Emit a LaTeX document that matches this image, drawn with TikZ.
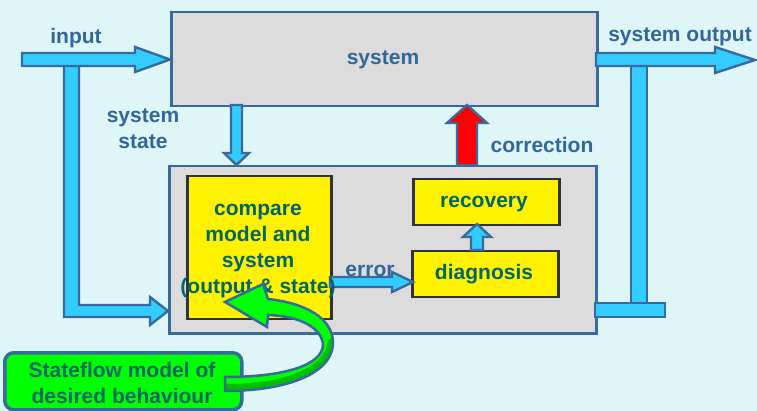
\documentclass[tikz,border=0pt]{standalone}
\usepackage{fontspec}
\setmainfont{Liberation Sans}
\definecolor{bg}{RGB}{222,246,248}
\definecolor{boxgray}{RGB}{220,220,220}
\definecolor{edgeblue}{RGB}{56,106,158}
\definecolor{arrowblue}{RGB}{51,204,255}
\definecolor{labelblue}{RGB}{51,102,153}
\definecolor{tealtext}{RGB}{0,102,102}
\definecolor{darkedge}{RGB}{50,50,50}
\definecolor{lime}{RGB}{0,255,0}
\definecolor{shadegreen}{RGB}{0,190,0}
\begin{document}
\begin{tikzpicture}[x=1pt,y=-1pt,
  txt/.style={font=\bfseries\fontsize{21}{26}\selectfont, inner sep=0pt},
  lbl/.style={txt, text=labelblue},
  intxt/.style={txt, text=tealtext, align=center},
  frame/.style={draw=edgeblue, line width=2.5pt, fill=boxgray, inner sep=0pt, anchor=north west},
  ybox/.style={draw=darkedge, line width=2.5pt, fill=yellow, inner sep=0pt, anchor=north west},
  fat/.style={draw=edgeblue, line width=2.4pt, fill=arrowblue, line join=miter},
]
\useasboundingbox (0,0) rectangle (757,411);
\fill[bg] (0,0) rectangle (757,411);

% feed of the input down to the monitor
\draw[fat] (64,64) -- (79,64) -- (79,305) -- (150,305) -- (150,297) -- (168,311)
  -- (150,325) -- (150,317) -- (64,317) -- cycle;
% input arrow
\draw[fat] (22,53) -- (135,53) -- (135,47) -- (170,59.5) -- (135,72) -- (135,66) -- (22,66) -- cycle;

% system
\node[frame, minimum width=426pt, minimum height=94pt] (system) at (170,11) {};
\node[lbl, anchor=base] (systemtext) at (383,65) {system};

% system state down to the monitor
\draw[fat] (231,105) -- (242,105) -- (242,153) -- (249,153) -- (236.5,165) -- (224,153) -- (231,153) -- cycle;

% output feed
\draw[fat] (631,64) rectangle (647,304);
\draw[fat] (596,53) -- (715,53) -- (715,47) -- (755,60) -- (715,73) -- (715,66) -- (596,66) -- cycle;

% monitor
\node[frame, minimum width=427pt, minimum height=167pt] (monitor) at (168,165) {};
\draw[fat] (595,303) rectangle (665,317);

% correction arrow
\draw[draw=edgeblue, line width=2.4pt, fill=red, line join=miter] (457,165) -- (457,123) -- (447,123)
  -- (467,105) -- (487,123) -- (477,123) -- (477,165) -- cycle;

% inner blocks
\node[ybox, minimum width=144pt, minimum height=143pt] (compare) at (186,175) {};
\node[ybox, minimum width=146pt, minimum height=46pt] (recovery) at (412,178) {};
\node[ybox, minimum width=146pt, minimum height=46pt] (diagnosis) at (411,250) {};

\node[lbl, anchor=base] (errortext) at (370,277) {error};
\draw[fat] (330,277) -- (392,277) -- (392,272) -- (413,282) -- (392,292) -- (392,287) -- (330,287) -- cycle;
\draw[fat] (471,250) -- (471,237) -- (463,237) -- (477,224) -- (491,237) -- (483,237) -- (483,250) -- cycle;

\node[intxt] (comparetext) at (258,251.5) {compare\\model and\\system\\(output \& state)};
\node[intxt, anchor=base] (recoverytext) at (484,208) {recovery};
\node[intxt, anchor=base] (diagnosistext) at (484,280) {diagnosis};

% labels
\node[lbl, anchor=base] (inputtext) at (76,44) {input};
\node[lbl, anchor=base] (outputtext) at (680,42) {system output};
\node[lbl, align=center] (statetext) at (143,128.5) {system\\state};
\node[lbl, anchor=base] (correctiontext) at (542,153) {correction};

% reference model
\node[draw=edgeblue, line width=3.5pt, fill=lime, rounded corners=9pt, inner sep=0pt, anchor=north west,
  minimum width=237pt, minimum height=57pt] (model) at (3,351) {};
\node[intxt] (modeltext) at (122,382.5) {Stateflow model of\\desired behaviour};

% curved arrow from the model into the comparison
\fill[lime] (225,302) -- (263,284) -- (268,299)
  .. controls (305,303) and (333,318) .. (333,343)
  .. controls (333,372) and (290,391) .. (225,391)
  -- (225,377)
  .. controls (285,377) and (322,365) .. (323,345)
  .. controls (322,328) and (300,316) .. (268,315)
  -- (267,327) -- cycle;
\fill[shadegreen] (333,338) .. controls (334,372) and (290,391) .. (225,391)
  -- (225,384) .. controls (285,384) and (326,368) .. (328,340) -- cycle;
\draw[edgeblue, line width=2.5pt, line join=miter] (225,302) -- (263,284) -- (268,299)
  .. controls (305,303) and (333,318) .. (333,343)
  .. controls (333,372) and (290,391) .. (225,391)
  -- (225,377)
  .. controls (285,377) and (322,365) .. (323,345)
  .. controls (322,328) and (300,316) .. (268,315)
  -- (267,327) -- cycle;
\end{tikzpicture}
\end{document}
